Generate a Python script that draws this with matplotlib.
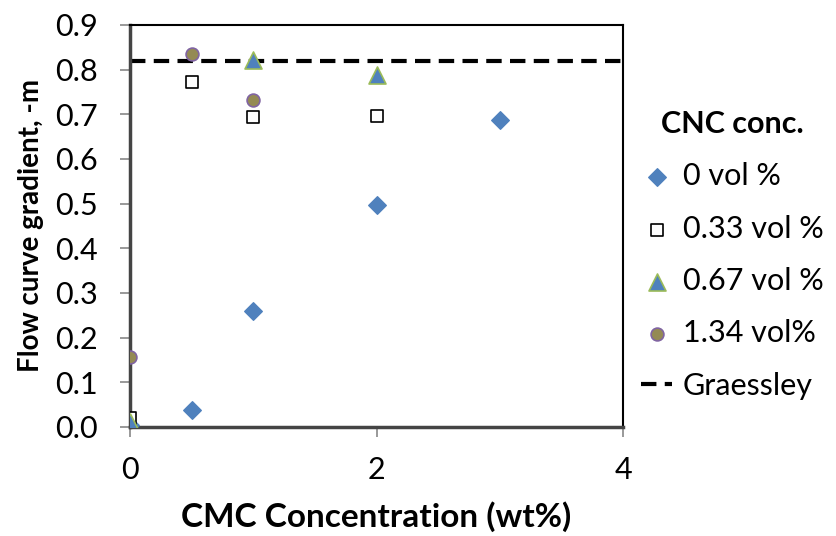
import numpy as np
import matplotlib.pyplot as plt

plt.rcParams['font.family'] = ['Lato', 'DejaVu Sans']

# data
x0 = [0, 0.5, 1, 2, 3]
y0 = [0.005, 0.038, 0.26, 0.498, 0.688]
x33 = [0, 0.5, 1, 2]
y33 = [0.02, 0.772, 0.694, 0.696]
x67 = [0, 1, 2]
y67 = [0.012, 0.822, 0.788]
x134 = [0, 0.5, 1]
y134 = [0.157, 0.836, 0.733]
graessley = 0.82

fig = plt.figure(figsize=(8.36, 5.36), dpi=100)
ax = fig.add_axes([130/836, 1-427/536, 493/836, 402/536])

ax.scatter(x0, y0, marker='D', s=80, color='#4F81BD', edgecolor='#4F81BD', label='0 vol %', zorder=3)
ax.scatter(x33, y33, marker='s', s=85, facecolor='white', edgecolor='black', linewidth=1.2, label='0.33 vol %', zorder=3)
ax.scatter(x67, y67, marker='^', s=150, color='#4F81BD', edgecolor='#9BBB59', linewidth=1.2, label='0.67 vol %', zorder=3)
ax.scatter(x134, y134, marker='o', s=85, color='#948A54', edgecolor='#8064A2', linewidth=1.2, label='1.34 vol%', zorder=4)
ax.axhline(graessley, color='black', linestyle=(0, (3.7, 2.0)), linewidth=3, label='Graessley', zorder=2)

ax.set_xlim(0, 4)
ax.set_ylim(0, 0.9)
ax.set_xticks([0, 2, 4])
ax.set_yticks(np.arange(0, 0.91, 0.1))
ax.set_yticklabels(['%.1f' % v for v in np.arange(0, 0.91, 0.1)])
ax.tick_params(axis='both', labelsize=22, direction='out', length=7, color='#888888', width=1.2)
ax.tick_params(axis='y', pad=16)
ax.tick_params(axis='x', pad=14)
for s in ax.spines.values():
    s.set_color('black')
    s.set_linewidth(1.5)
ax.spines['left'].set_color('#444444')
ax.spines['left'].set_linewidth(2.5)
ax.spines['bottom'].set_color('#444444')
ax.spines['bottom'].set_linewidth(2.5)

ax.set_xlabel('CMC Concentration (wt%)', fontsize=24, fontweight='bold', labelpad=12)
ax.set_ylabel('Flow curve gradient, -m', fontsize=20, fontweight='bold', labelpad=8)

leg = ax.legend(loc='upper left', bbox_to_anchor=(1.0, 0.835), frameon=False, fontsize=22,
                title='CNC conc.', title_fontproperties={'weight': 'bold', 'size': 22},
                handlelength=1.0, handletextpad=0.35, labelspacing=0.8, borderaxespad=0.2)

fig.savefig('out.png', dpi=100)
